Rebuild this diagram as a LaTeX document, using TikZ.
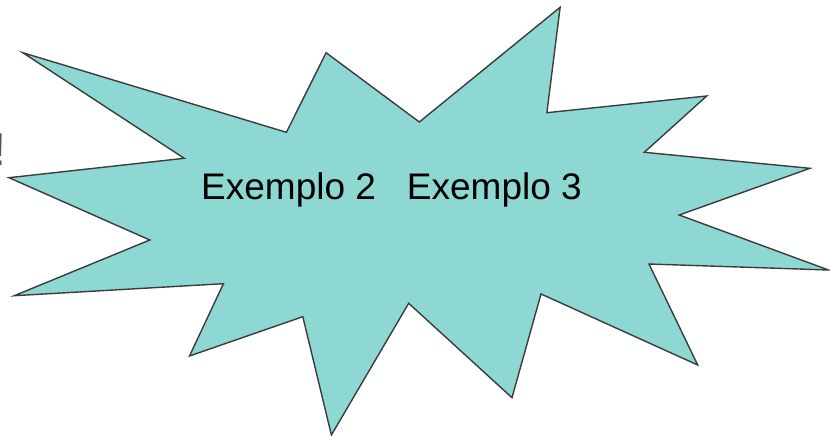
\documentclass[tikz,border=0pt]{standalone}
\usepackage{fontspec}
\setmainfont{Liberation Sans}
\definecolor{burstfill}{RGB}{141,216,210}
\definecolor{burstline}{RGB}{60,60,60}
\definecolor{markgray}{RGB}{85,85,85}
\tikzset{
  burst/.style={fill=burstfill, draw=burstline, line width=1.4pt, line join=miter},
  label36/.style={font=\fontsize{37}{41}\selectfont, inner sep=0pt, text=black},
  mark46/.style={font=\fontsize{46}{50}\selectfont, inner sep=0pt, text=markgray}
}
\begin{document}
\begin{tikzpicture}[x=1pt,y=-1pt]
\useasboundingbox (0,0) rectangle (830,436);
\clip (0,0) rectangle (830,436);
\node[mark46, anchor=base west] (bang) at (-6.4,165) {!};
\path[burst] (22.8,52.7) -- (286.4,132.3) -- (326.1,52.7) -- (419.3,122)
  -- (560.1,7.3) -- (546.9,112.7) -- (706.7,96) -- (644.3,152.3)
  -- (810,168.3) -- (679.2,215) -- (828.5,270) -- (649,264)
  -- (697.7,365) -- (541,294) -- (512,397.7) -- (408.7,303.3)
  -- (331.4,435) -- (302.8,316.7) -- (189.5,356) -- (223.4,283.7)
  -- (14.3,295.7) -- (149.8,240) -- (9,177.7) -- (184.2,158.3) -- cycle;
\node[label36, anchor=base west] (txt) at (201,199) {Exemplo 2\hspace{31pt}Exemplo 3};
\end{tikzpicture}
\end{document}
